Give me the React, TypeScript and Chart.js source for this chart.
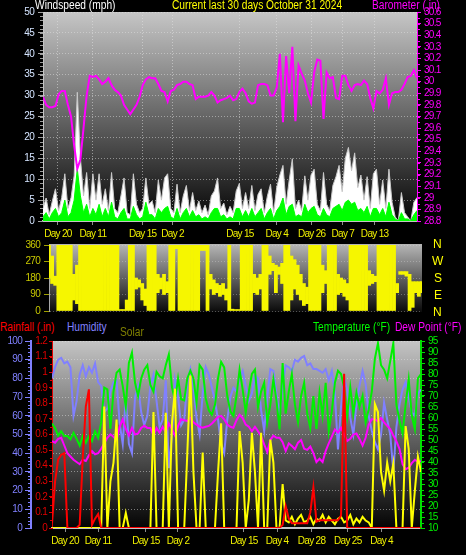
import React, { useEffect, useRef } from 'react';
import { Chart, registerables } from 'chart.js';

Chart.register(...registerables);

// one sample every 6 hours over the 30-day window
const STEP_DAYS = 0.25;

// ---------- Panel 1: wind speed / gust / barometer ----------
const windGust = [
  3, 5.5, 1.5, 4.8, 7.7, 2.5, 5.6, 11.3, 3, 5.6,
  10.8, 30.8, 15.2, 6, 11.6, 3, 11.3, 5, 11.3, 4,
  7.7, 2.5, 11.6, 3, 2, 6, 10.3, 2, 1.5, 11.3,
  4, 2, 3, 10.3, 4, 4.8, 2, 9.8, 5, 10.3,
  11.3, 3, 2, 8.8, 2, 6, 8.5, 2.5, 6.8, 2.5,
  4.8, 2, 3.8, 1.5, 6, 7.2, 10.3, 3, 4.3, 1.5,
  3.5, 2, 7.2, 9, 3, 6.8, 3, 8.5, 2.5, 6.4,
  7.7, 2, 6, 8.8, 2, 8.1, 11, 13.3, 4, 9.8,
  14.9, 3, 5, 2.5, 10.8, 5, 11, 12.4, 4, 2.5,
  11.6, 4, 2.5, 8.5, 10.6, 13.3, 7, 15, 17.6, 12,
  16.3, 8, 11, 5, 10.6, 3, 11.3, 12.4, 4, 9.8,
  3, 12.4, 4.5, 1, 0, 6.8, 2, 1, 0, 4.5,
  5.6,
];
const windAvg = [
  1, 2, 0.5, 2, 3, 1, 2, 5, 1, 2,
  5, 12.5, 6, 2, 4, 1, 3, 1.5, 4, 1,
  3, 1, 4.5, 1, 0.5, 2, 3, 0.5, 0.5, 3.5,
  1.5, 0.5, 1, 4.5, 1.5, 1.5, 0.5, 3, 2, 3,
  3.5, 1, 0.5, 3, 0.5, 2, 3, 1, 2.5, 1,
  1.5, 0.5, 1, 0.5, 2, 3, 3, 1, 1.5, 0.5,
  1, 0.5, 3, 3, 1, 2.5, 1, 3, 1, 2,
  3, 0.5, 2, 3, 0.5, 2.5, 3.5, 5.5, 1.5, 3.5,
  4, 1, 1.5, 1, 4, 2, 3, 3.5, 1.5, 1,
  3, 1.5, 1, 3, 3.5, 4, 2.5, 4.5, 5, 4,
  4.5, 2.5, 3, 2, 3.5, 1, 3, 3, 1.5, 3,
  1, 4.5, 1.5, 0.5, 0, 2, 0.5, 0.5, 0, 1.5,
  2.5,
];
const baroIn = [
  29.87, 29.8, 29.78, 29.78, 29.79, 29.89, 29.92, 29.92, 29.8, 29.7,
  29.45, 29.25, 29.33, 29.6, 29.88, 30.05, 30.04, 30.05, 30.02, 29.98,
  30.0, 30.03, 29.97, 29.93, 29.91, 29.88, 29.8, 29.76, 29.72, 29.76,
  29.8, 29.87, 29.97, 30.02, 30.04, 30.03, 30.03, 29.98, 29.92, 29.91,
  29.83, 29.92, 29.93, 29.97, 29.98, 30.0, 30.0, 29.98, 29.97, 29.85,
  29.87, 29.87, 29.87, 29.88, 29.91, 29.88, 29.82, 29.84, 29.85, 29.86,
  29.88, 29.84, 29.85, 29.91, 29.94, 29.9, 29.83, 29.81, 29.82, 29.97,
  29.98, 29.98, 29.97, 29.88, 29.88, 29.95, 30.24, 29.65, 30.22, 29.9,
  30.3, 29.66, 30.14, 30.07, 30.01, 29.9, 29.82, 30.08, 30.19, 30.18,
  29.68, 30.08, 30.03, 30.04, 29.86, 29.85, 30.05, 30.05, 29.97, 29.92,
  29.97, 29.98, 29.97, 30.01, 29.98, 29.86, 29.77, 29.92, 29.9, 29.93,
  30.03, 29.8, 29.9, 29.91, 29.91, 29.93, 29.98, 30.04, 30.05, 30.1,
  30.03,
];
const windTickDays = [1.2, 4.0, 8.0, 10.4, 15.8, 18.75, 21.55, 24.05, 26.6];
const windTickLabels = ['Day 20', 'Day 11', 'Day 15', 'Day 2', 'Day 15', 'Day 4', 'Day 26', 'Day 7', 'Day 13'];

// ---------- Panel 2: wind direction (range swept in each 6 h) ----------
const windDirLow = [
  180, 150, 140, 0, 0, 0, 0, 0, 60, 40,
  0, 0, 0, 0, 0, 0, 0, 0, 0, 0,
  0, 0, 0, 0, 0, 0, 0, 0, 120, 130,
  60, 30, 0, 0, 0, 100, 120, 90, 100, 0,
  0, 340, 0, 0, 0, 0, 0, 0, 0, 330,
  330, 0, 120, 90, 100, 80, 90, 60, 0, 0,
  0, 0, 0, 0, 0, 0, 100, 90, 120, 0,
  0, 200, 220, 100, 200, 150, 0, 0, 60, 120,
  90, 60, 30, 40, 0, 0, 0, 0, 100, 150,
  0, 0, 0, 90, 100, 80, 60, 0, 0, 0,
  0, 0, 0, 140, 150, 160, 0, 0, 0, 0,
  0, 0, 100, 200, 200, 190, 0, 20, 100, 80,
  100,
];
const windDirHigh = [
  360, 300, 190, 360, 360, 360, 360, 360, 200, 250,
  360, 360, 360, 360, 360, 360, 360, 360, 360, 360,
  360, 360, 360, 8, 8, 60, 360, 360, 180, 170,
  150, 120, 360, 360, 360, 200, 180, 200, 160, 360,
  360, 360, 360, 360, 360, 360, 360, 360, 360, 360,
  360, 360, 200, 170, 150, 140, 150, 120, 360, 10,
  8, 8, 360, 360, 360, 360, 200, 180, 200, 360,
  360, 300, 260, 250, 240, 260, 360, 360, 300, 280,
  250, 200, 150, 130, 360, 360, 360, 360, 250, 220,
  360, 360, 360, 200, 180, 170, 150, 360, 360, 360,
  360, 360, 360, 220, 200, 190, 360, 360, 360, 360,
  360, 360, 150, 215, 215, 215, 200, 160, 160, 160,
  160,
];

// ---------- Panel 3: rain / humidity / solar / temperature / dew point ----------
const tempF = [
  57.5, 55.5, 52, 54, 51.8, 51.8, 50.3, 53.3, 50.5, 47.5,
  51.8, 48.8, 51.8, 49.5, 54, 51, 58, 73.8, 73, 55,
  72, 80.6, 82, 74.5, 65, 85, 89.7, 76, 70, 78,
  82, 84, 75, 72, 81, 79, 78, 84, 88.9, 74,
  68, 78, 68.5, 68, 78, 81.5, 78, 67, 84, 82,
  69, 63.5, 61.5, 66, 78, 85.5, 83, 70, 63, 61,
  70, 82, 73, 62.4, 72, 80, 82, 65, 72, 76,
  58, 66, 77.6, 68, 54.8, 85, 62, 72, 80, 66,
  58, 70, 76, 62, 55.5, 70, 55, 71.5, 61, 76,
  54, 63, 76, 81.5, 80, 74, 61, 74, 62, 71.5,
  65, 70, 58, 64, 72, 87, 94, 84, 82, 78,
  86, 94, 66, 59, 53, 66, 77.6, 61, 55, 78,
  80,
];
const dewPointF = [
  49.5, 48.8, 50.5, 51, 47.5, 44, 42.5, 41, 40, 39,
  41, 40.5, 43, 45, 43.5, 44, 46, 48.5, 51, 52.6,
  51.5, 50, 56, 59.4, 55, 52, 55.5, 52.5, 53, 55.5,
  56.5, 55.5, 55.5, 52, 55.5, 53.3, 56, 53.5, 57.5, 55,
  52, 56.4, 59.4, 59, 58.7, 60, 58, 57, 56, 55.6,
  56, 56.4, 57.5, 59, 60.5, 61, 59.4, 57, 56, 55.6,
  59, 61.5, 60, 57, 56, 54, 56, 54, 51.8, 48,
  44.5, 50, 52, 51, 51, 49, 45, 48.5, 47.3, 45.8,
  48.8, 50, 46, 45.5, 47, 44, 40, 41.5, 40, 45,
  48.5, 51.5, 54.8, 53.3, 55.5, 52.5, 49.5, 50.5, 52.5, 53,
  50.5, 47.5, 51, 57, 59.4, 59.4, 58.5, 60, 58, 56.5,
  55, 52, 49.5, 46, 39, 36.7, 37.4, 39.5, 41, 40,
  40.5,
];
const humidityPct = [
  80, 86, 90, 91, 88, 89, 86, 60, 68, 82,
  87, 81, 86, 83, 88, 78, 76, 62, 64, 73,
  78, 79, 56, 45, 70, 45, 40, 70, 76, 62,
  55, 60, 76, 82, 68, 54, 58, 79, 32, 50,
  79, 70, 55, 58, 78, 85, 76, 59, 50, 72,
  86, 82, 75, 68, 58, 45, 40, 58, 70, 75,
  73, 80, 84, 76, 68, 72, 82, 80, 63, 52,
  70, 85, 84, 72, 60, 76, 87, 86, 84, 90,
  89, 91, 92, 87, 88, 85, 85, 84, 83, 85,
  79, 84, 72, 42, 65, 80, 74, 59, 50, 66,
  76, 84, 77, 60, 52, 46, 42, 50, 67, 58,
  50, 30, 54, 66, 74, 78, 70, 62, 60, 72,
  74,
];
const solarWm2 = [
  0, 0, 0, 0, 0, 0, 0, 0, 0, 0,
  0, 0, 0, 0, 0, 0, 0, 650, 0, 250,
  350, 580, 0, 0, 80, 0, 0, 0, 0, 0,
  0, 0, 0, 620, 0, 0, 0, 616, 0, 560,
  745, 0, 0, 0, 400, 815, 300, 0, 0, 404,
  0, 0, 0, 0, 300, 560, 0, 0, 0, 0,
  0, 518, 350, 0, 150, 509, 300, 0, 509, 0,
  0, 473, 350, 0, 0, 235, 40, 30, 60, 20,
  50, 70, 30, 40, 60, 20, 50, 40, 70, 30,
  60, 40, 20, 50, 60, 30, 40, 70, 20, 50,
  30, 60, 40, 30, 0, 663, 620, 300, 200, 350,
  250, 344, 0, 0, 0, 545, 423, 0, 200, 382,
  300,
];
const rainIn = [
  0.03, 0.3, 0.44, 0.47, 0.48, 0, 0, 0, 0, 0.02,
  0.45, 0.78, 0.89, 0.02, 0.06, 0.09, 0, 0, 0, 0,
  0, 0, 0, 0, 0, 0, 0, 0, 0, 0,
  0, 0, 0, 0, 0, 0, 0, 0, 0, 0,
  0, 0, 0, 0, 0, 0, 0, 0, 0, 0,
  0, 0, 0, 0, 0, 0, 0, 0, 0, 0,
  0, 0, 0, 0, 0, 0, 0, 0, 0, 0,
  0, 0, 0, 0, 0, 0.02, 0.14, 0.06, 0.03, 0.03,
  0.03, 0.03, 0.03, 0.03, 0.1, 0.26, 0.04, 0.05, 0.05, 0.05,
  0.05, 0.05, 0.05, 0.05, 0.08, 0.99, 0, 0, 0, 0,
  0, 0, 0, 0, 0, 0, 0, 0, 0, 0,
  0, 0, 0, 0, 0, 0, 0, 0, 0, 0,
  0,
];
const climateTickDays = [1.06, 3.74, 7.64, 10.24, 15.6, 18.3, 21.1, 24.05, 26.8];
const climateTickLabels = ['Day 20', 'Day 11', 'Day 15', 'Day 2', 'Day 15', 'Day 4', 'Day 28', 'Day 25', 'Day 4'];

const FONT = "'Liberation Sans', Arial, sans-serif";

const toXY = (arr: number[]) => arr.map((v, i) => ({ x: i * STEP_DAYS, y: v }));
const fmt1 = (v: any) => String(Math.round(Number(v) * 10) / 10);

const fixW = (w: number) => (s: any) => {
  s.width = w;
  s.paddingLeft = 0; s.paddingRight = 0; s.paddingTop = 0; s.paddingBottom = 0;
};
const fixH = (h: number) => (s: any) => {
  s.height = h;
  s.paddingLeft = 0; s.paddingRight = 0; s.paddingTop = 0; s.paddingBottom = 0;
};

// narrower lettering, like the original bitmap font
const narrowTextPlugin = {
  id: 'narrowText',
  beforeDraw(chart: any) {
    const ctx: any = chart.ctx;
    if ('letterSpacing' in ctx) ctx.letterSpacing = '-0.7px';
  },
};

const bgPlugin = {
  id: 'bgGrad',
  beforeDraw(chart: any, _a: any, opts: any) {
    const { ctx, chartArea: a } = chart;
    if (!a) return;
    const g = ctx.createLinearGradient(0, a.top, 0, a.bottom);
    g.addColorStop(0, opts.top);
    g.addColorStop(1, opts.bottom);
    ctx.save();
    ctx.fillStyle = g;
    ctx.fillRect(a.left, a.top - (opts.extTop || 0), a.right - a.left, a.bottom - a.top + (opts.extTop || 0) + (opts.extBottom || 0));
    ctx.restore();
  },
};

const minorTickPlugin = {
  id: 'minorTicks',
  afterDraw(chart: any, _a: any, opts: any) {
    const ctx = chart.ctx;
    (opts.items || []).forEach((it: any) => {
      const s = chart.scales[it.axis];
      if (!s) return;
      const left = s.position === 'left';
      const edge = left ? s.right : s.left;
      const dir = left ? -1 : 1;
      const n = Math.round((s.max - s.min) / it.step);
      ctx.save();
      ctx.strokeStyle = it.color;
      ctx.lineWidth = 1;
      ctx.beginPath();
      for (let k = 0; k <= n; k++) {
        const y = Math.round(s.getPixelForValue(s.min + k * it.step)) + 0.5;
        ctx.moveTo(edge, y);
        ctx.lineTo(edge + dir * it.len, y);
      }
      ctx.stroke();
      ctx.restore();
    });
  },
};

const dayAxis = (days: number[], labels: string[], h: number, gridOnArea: boolean) => ({
  type: 'linear',
  min: 0,
  max: 30,
  afterBuildTicks: (s: any) => { s.ticks = days.map((v) => ({ value: v })); },
  afterFit: fixH(h),
  ticks: {
    color: '#f0f000',
    font: { family: FONT, size: 10 },
    padding: 3,
    maxRotation: 0,
    minRotation: 0,
    autoSkip: false,
    callback: (_v: any, i: number) => labels[i],
  },
  grid: {
    display: true,
    drawOnChartArea: gridOnArea,
    color: 'rgba(225,225,225,0.55)',
    lineWidth: 1,
    tickLength: 4,
    tickColor: '#8c8c8c',
  },
  border: { display: true, color: '#c4c4c4', width: 2, dash: [1, 2] },
});

export default function App() {
  const c1 = useRef<HTMLCanvasElement>(null);
  const c2 = useRef<HTMLCanvasElement>(null);
  const c3 = useRef<HTMLCanvasElement>(null);

  useEffect(() => {
    const charts: Chart[] = [];

    charts.push(new Chart(c1.current as HTMLCanvasElement, {
      type: 'line',
      data: {
        datasets: [
          { label: 'Barometer', data: toXY(baroIn), yAxisID: 'baro', borderColor: '#ff00ff', borderWidth: 2, pointRadius: 0, fill: false, tension: 0 },
          { label: 'Wind speed', data: toXY(windAvg), yAxisID: 'wind', borderColor: '#00ff00', backgroundColor: '#00ff00', borderWidth: 1, pointRadius: 0, fill: 'origin', tension: 0 },
          { label: 'Gust', data: toXY(windGust), yAxisID: 'wind', borderColor: '#c8c8c8', backgroundColor: '#ffffff', borderWidth: 1, pointRadius: 0, fill: 'origin', tension: 0 },
        ],
      } as any,
      options: {
        animation: false,
        responsive: false,
        events: [],
        layout: { padding: { top: 12, left: 0, right: 0, bottom: 0 } },
        plugins: {
          legend: { display: false },
          tooltip: { enabled: false },
          bgGrad: { top: '#c6c6c6', bottom: '#050505' },
          minorTicks: { items: [
            { axis: 'wind', step: 1, len: 3, color: '#9c9c9c' },
            { axis: 'baro', step: 0.05, len: 3, color: '#ff00ff' },
          ] },
        } as any,
        scales: {
          x: dayAxis(windTickDays, windTickLabels, 19, true) as any,
          wind: {
            type: 'linear', position: 'left', min: 0, max: 50,
            afterFit: fixW(43),
            ticks: { stepSize: 5, maxTicksLimit: 30, color: '#d4e4ff', font: { family: FONT, size: 10 }, padding: 4 },
            grid: { color: 'rgba(225,225,225,0.5)', lineWidth: 1, tickLength: 5, tickColor: '#a8a8a8' },
            border: { color: '#c4c4c4', width: 1, dash: [1, 2] },
          },
          baro: {
            type: 'linear', position: 'right', min: 28.8, max: 30.6,
            afterFit: fixW(49),
            ticks: { stepSize: 0.1, maxTicksLimit: 30, autoSkip: false, color: '#ff00ff', font: { family: FONT, size: 10 }, padding: 3, callback: fmt1 },
            grid: { drawOnChartArea: false, tickLength: 4, tickColor: '#ff00ff' },
            border: { color: '#ff00ff', width: 1 },
          },
        } as any,
      },
      plugins: [narrowTextPlugin, bgPlugin, minorTickPlugin],
    }));

    charts.push(new Chart(c2.current as HTMLCanvasElement, {
      type: 'bar',
      data: {
        datasets: [{
          label: 'Wind direction',
          data: windDirLow.map((lo, i) => ({ x: i * STEP_DAYS, y: [lo, windDirHigh[i]] })),
          backgroundColor: '#f6f600',
          borderWidth: 0,
          barPercentage: 1,
          categoryPercentage: 1,
        }],
      } as any,
      options: {
        animation: false,
        responsive: false,
        events: [],
        layout: { padding: { top: 5, left: 0, right: 44, bottom: 9 } },
        plugins: {
          legend: { display: false },
          tooltip: { enabled: false },
          bgGrad: { top: '#b4b4b4', bottom: '#0c0c0c', extTop: 1, extBottom: 1 },
        } as any,
        scales: {
          x: { type: 'linear', min: 0, max: 30, display: false, offset: false },
          y: {
            type: 'linear', position: 'left', min: 0, max: 360,
            afterFit: fixW(49),
            ticks: { stepSize: 90, color: '#c8c800', font: { family: FONT, size: 10 }, padding: 4 },
            grid: { color: 'rgba(220,220,220,0.35)', lineWidth: 1, tickLength: 5, tickColor: '#a0a000' },
            border: { color: '#a8a8a8', width: 1, dash: [1, 2] },
          },
        } as any,
      },
      plugins: [narrowTextPlugin, bgPlugin],
    }));

    charts.push(new Chart(c3.current as HTMLCanvasElement, {
      type: 'line',
      data: {
        datasets: [
          { label: 'Rainfall', data: toXY(rainIn), yAxisID: 'rain', borderColor: '#ff0000', borderWidth: 2, pointRadius: 0, fill: false },
          { label: 'Solar', data: toXY(solarWm2), yAxisID: 'solar', borderColor: '#ffff00', borderWidth: 2, pointRadius: 0, fill: false },
          { label: 'Dew Point', data: toXY(dewPointF), yAxisID: 'temp', borderColor: '#ff00ff', borderWidth: 2, pointRadius: 0, fill: false },
          { label: 'Temperature', data: toXY(tempF), yAxisID: 'temp', borderColor: '#00f000', borderWidth: 2, pointRadius: 0, fill: false },
          { label: 'Humidity', data: toXY(humidityPct), yAxisID: 'hum', borderColor: '#8080ff', borderWidth: 2, pointRadius: 0, fill: false },
        ],
      } as any,
      options: {
        animation: false,
        responsive: false,
        events: [],
        layout: { padding: { top: 6, left: 0, right: 0, bottom: 0 } },
        plugins: {
          legend: { display: false },
          tooltip: { enabled: false },
          bgGrad: { top: '#c4c4c4', bottom: '#040404', extBottom: 1 },
          minorTicks: { items: [
            { axis: 'hum', step: 2, len: 3, color: '#8080ff' },
            { axis: 'rain', step: 0.05, len: 2, color: '#e00000' },
            { axis: 'temp', step: 2.5, len: 3, color: '#00e000' },
          ] },
        } as any,
        scales: {
          x: dayAxis(climateTickDays, climateTickLabels, 27, false) as any,
          hum: {
            type: 'linear', position: 'left', weight: 1, min: 0, max: 100,
            afterFit: fixW(31),
            ticks: { stepSize: 10, maxTicksLimit: 30, color: '#8080ff', font: { family: FONT, size: 10 }, padding: 3 },
            grid: { color: 'rgba(225,225,225,0.5)', lineWidth: 1, tickLength: 6, tickColor: '#8080ff' },
            border: { color: '#8080ff', width: 2, dash: [1, 2] },
          },
          rain: {
            type: 'linear', position: 'left', weight: 0, min: 0, max: 1.2,
            afterFit: fixW(21),
            ticks: { stepSize: 0.1, maxTicksLimit: 30, autoSkip: false, color: '#e00000', font: { family: FONT, size: 10 }, padding: 2, callback: fmt1 },
            grid: { drawOnChartArea: false, tickLength: 3, tickColor: '#e00000' },
            border: { color: '#e00000', width: 1 },
          },
          temp: {
            type: 'linear', position: 'right', min: 10, max: 95,
            afterFit: fixW(45),
            ticks: { stepSize: 5, maxTicksLimit: 30, autoSkip: false, color: '#00f000', font: { family: FONT, size: 10 }, padding: 3 },
            grid: { drawOnChartArea: false, tickLength: 4, tickColor: '#00e000' },
            border: { color: '#00e000', width: 2 },
          },
          solar: { type: 'linear', display: false, min: 0, max: 1000 },
        } as any,
      },
      plugins: [narrowTextPlugin, bgPlugin, minorTickPlugin],
    }));

    return () => { charts.forEach((c) => c.destroy()); };
  }, []);

  const label = (text: string, left: number, top: number, color: string, narrow = true) => (
    <div
      style={{
        position: 'absolute', left, top, color, fontFamily: FONT, fontSize: 12, lineHeight: '12px',
        whiteSpace: 'nowrap', transform: narrow ? 'scaleX(0.85)' : undefined, transformOrigin: 'left top',
      }}
    >
      {text}
    </div>
  );

  return (
    <div style={{ position: 'absolute', left: 0, top: 0, width: 466, height: 555, background: '#000', overflow: 'hidden' }}>
      <canvas ref={c1} width={466} height={240} style={{ position: 'absolute', left: 0, top: 0, width: 466, height: 240 }} />
      <canvas ref={c2} width={466} height={80} style={{ position: 'absolute', left: 0, top: 240, width: 466, height: 80 }} />
      <canvas ref={c3} width={466} height={220} style={{ position: 'absolute', left: 0, top: 335, width: 466, height: 220 }} />
      {label('Windspeed (mph)', 35, -1, '#ffffff')}
      {label('Current last 30 days October 31 2024', 172, -1, '#ffff00')}
      {label('Barometer (.in)', 372, -1, '#ff00ff')}
      {label('N', 433, 238, '#ffff00', false)}
      {label('W', 432, 255, '#ffff00', false)}
      {label('S', 434, 272, '#ffff00', false)}
      {label('E', 434, 289, '#ffff00', false)}
      {label('N', 433, 306, '#ffff00', false)}
      {label('Rainfall (.in)', 0, 321, '#ff0000')}
      {label('Humidity', 67, 321, '#8080ff')}
      {label('Solar', 120, 326, '#808000')}
      {label('Temperature (°F)', 313, 321, '#00ff00')}
      {label('Dew Point (°F)', 395, 321, '#ff00ff')}
    </div>
  );
}
